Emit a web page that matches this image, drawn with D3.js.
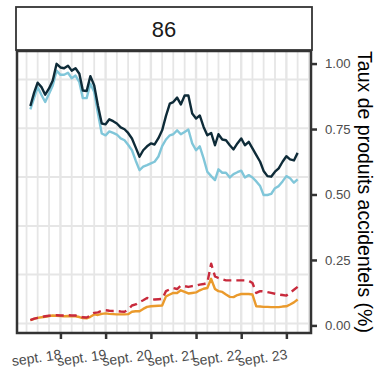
<!DOCTYPE html>
<html>
<head>
<meta charset="utf-8">
<script src="https://cdn.jsdelivr.net/npm/d3@7"></script>
<style>
body { margin: 0; background: #fff; }
text { font-family: "Liberation Sans", Arial, sans-serif; }
</style>
</head>
<body>
<script>
// valeurs mensuelles, janv. 2018 -> déc. 2023
var mois = d3.timeMonth.range(new Date(2018, 0, 1), new Date(2024, 0, 1));

var tauxFonce = [0.838, 0.89, 0.927, 0.91, 0.881, 0.905, 0.935, 0.999, 0.985, 0.982, 0.992, 0.973,
    0.982, 0.961, 0.897, 0.895, 0.952, 0.916, 0.84, 0.771, 0.768, 0.787, 0.78, 0.771,
    0.756, 0.749, 0.735, 0.714, 0.68, 0.644, 0.669, 0.684, 0.695, 0.691, 0.715, 0.745,
    0.80, 0.847, 0.853, 0.870, 0.844, 0.878, 0.878, 0.809, 0.79, 0.802, 0.758, 0.726,
    0.735, 0.688, 0.73, 0.71, 0.707, 0.688, 0.672, 0.695, 0.714, 0.688, 0.701, 0.676,
    0.65, 0.625, 0.59, 0.570, 0.568, 0.587, 0.60, 0.625, 0.646, 0.634, 0.630, 0.659];

var tauxClair = [0.825, 0.87, 0.91, 0.88, 0.853, 0.885, 0.916, 0.973, 0.957, 0.957, 0.965, 0.944,
    0.954, 0.929, 0.868, 0.868, 0.923, 0.891, 0.81, 0.733, 0.726, 0.741, 0.735, 0.729,
    0.714, 0.707, 0.69, 0.669, 0.63, 0.593, 0.606, 0.612, 0.619, 0.625, 0.645, 0.685,
    0.71, 0.726, 0.73, 0.745, 0.73, 0.739, 0.748, 0.695, 0.669, 0.684, 0.638, 0.587,
    0.57, 0.555, 0.596, 0.583, 0.583, 0.565, 0.578, 0.585, 0.591, 0.565, 0.574, 0.565,
    0.55, 0.532, 0.498, 0.498, 0.502, 0.524, 0.532, 0.55, 0.570, 0.562, 0.545, 0.558];

var tauxRouge = [0.020, 0.026, 0.029, 0.032, 0.035, 0.037, 0.038, 0.039, 0.038, 0.038, 0.039, 0.038,
    0.038, 0.034, 0.031, 0.030, 0.038, 0.048, 0.050, 0.056, 0.058, 0.056, 0.055, 0.055,
    0.053, 0.052, 0.060, 0.076, 0.080, 0.089, 0.096, 0.105, 0.100, 0.099, 0.100, 0.101,
    0.131, 0.138, 0.143, 0.139, 0.152, 0.150, 0.147, 0.150, 0.152, 0.156, 0.158, 0.162,
    0.236, 0.187, 0.181, 0.176, 0.172, 0.172, 0.172, 0.172, 0.172, 0.172, 0.170, 0.162,
    0.124, 0.131, 0.130, 0.127, 0.124, 0.121, 0.118, 0.116, 0.114, 0.125, 0.136, 0.147];

var tauxOrange = [0.020, 0.025, 0.029, 0.031, 0.033, 0.036, 0.038, 0.037, 0.036, 0.035, 0.036, 0.035,
    0.035, 0.032, 0.028, 0.027, 0.033, 0.042, 0.040, 0.044, 0.046, 0.044, 0.043, 0.042,
    0.042, 0.042, 0.043, 0.052, 0.054, 0.054, 0.063, 0.071, 0.073, 0.074, 0.075, 0.076,
    0.111, 0.118, 0.124, 0.124, 0.134, 0.128, 0.122, 0.124, 0.126, 0.134, 0.140, 0.143,
    0.178, 0.139, 0.131, 0.128, 0.118, 0.109, 0.108, 0.116, 0.120, 0.120, 0.120, 0.118,
    0.073, 0.072, 0.071, 0.071, 0.070, 0.070, 0.070, 0.072, 0.073, 0.080, 0.088, 0.099];

var xTicks = [new Date(2018, 8, 1), new Date(2019, 8, 1), new Date(2020, 8, 1),
    new Date(2021, 8, 1), new Date(2022, 8, 1), new Date(2023, 8, 1)];
var xTickLabels = ["sept. 18", "sept. 19", "sept. 20", "sept. 21", "sept. 22", "sept. 23"];
var yTicks = [0, 0.25, 0.5, 0.75, 1];
var yGrid = [0.0076, 0.194, 0.380, 0.567, 0.753, 0.939];
var titreFacette = "86";
var titreY = "Taux de produits accidentels (%)";

var margin = {top: 51, right: 65, bottom: 35, left: 17},
    width = 376 - margin.left - margin.right,
    height = 368 - margin.top - margin.bottom;

// échelles avec 5% d'expansion comme ggplot
var xExt = d3.extent(mois);
var xPad = (xExt[1] - xExt[0]) * 0.05;
var x = d3.scaleTime()
    .domain([new Date(+xExt[0] - xPad), new Date(+xExt[1] + xPad)])
    .range([0, width]);

var toutes = tauxFonce.concat(tauxClair, tauxRouge, tauxOrange);
var yExt = d3.extent(toutes);
var yPad = (yExt[1] - yExt[0]) * 0.05;
var y = d3.scaleLinear()
    .domain([yExt[0] - yPad, yExt[1] + yPad])
    .range([height, 0]);

var svg = d3.select("body").append("svg")
    .attr("width", 376)
    .attr("height", 368);

var g = svg.append("g")
    .attr("transform", "translate(" + margin.left + "," + margin.top + ")");

// grille
var vGrid = d3.timeMonth.range(x.domain()[0], x.domain()[1]).filter(function(d) { return d.getMonth() % 3 === 2; });
g.append("g").selectAll("line").data(vGrid).enter().append("line")
    .attr("x1", function(d) { return x(d); })
    .attr("x2", function(d) { return x(d); })
    .attr("y1", 0).attr("y2", height)
    .attr("stroke", "#e6e6e6")
    .attr("stroke-width", function(d) { return d.getMonth() === 8 ? 2.4 : 1.8; });

g.append("g").selectAll("line").data(yGrid).enter().append("line")
    .attr("x1", 0).attr("x2", width)
    .attr("y1", function(d) { return y(d); })
    .attr("y2", function(d) { return y(d); })
    .attr("stroke", "#e6e6e6")
    .attr("stroke-width", 2);

// séries
var series = [
    {vals: tauxClair, color: "#80c6d9", dash: null},
    {vals: tauxFonce, color: "#0e2b38", dash: null},
    {vals: tauxOrange, color: "#ea9a2c", dash: null},
    {vals: tauxRouge, color: "#c82a3c", dash: "8,5"}
];

var line = d3.line()
    .x(function(d, i) { return x(mois[i]); })
    .y(function(d) { return y(d); });

series.forEach(function(s) {
    g.append("path")
        .datum(s.vals)
        .attr("fill", "none")
        .attr("stroke", s.color)
        .attr("stroke-width", 2.4)
        .attr("stroke-linejoin", "round")
        .attr("stroke-dasharray", s.dash)
        .attr("d", line);
});

// cadre du panneau
g.append("rect")
    .attr("width", width).attr("height", height)
    .attr("fill", "none")
    .attr("stroke", "#333")
    .attr("stroke-width", 2.5);

// axe y à droite
var yAxis = g.append("g")
    .attr("transform", "translate(" + width + ",0)")
    .call(d3.axisRight(y).tickValues(yTicks).tickFormat(d3.format(".2f")).tickSize(6).tickPadding(8));
yAxis.select(".domain").remove();
yAxis.selectAll(".tick line").attr("stroke", "#333").attr("stroke-width", 2.5);
yAxis.selectAll(".tick text").attr("fill", "#4d4d4d").style("font-size", "13.2px");

// axe x
var xAxis = g.append("g")
    .attr("transform", "translate(0," + height + ")")
    .call(d3.axisBottom(x).tickValues(xTicks).tickFormat(function(d, i) { return xTickLabels[i]; }).tickSize(6));
xAxis.select(".domain").remove();
xAxis.selectAll(".tick line").attr("stroke", "#333").attr("stroke-width", 2.5);
xAxis.selectAll(".tick text")
    .attr("fill", "#4d4d4d")
    .style("font-size", "14px")
    .attr("text-anchor", "end")
    .attr("y", 0).attr("dy", 0)
    .attr("transform", "translate(1,26) rotate(-8)");

// bandeau de facette
svg.append("rect")
    .attr("x", margin.left - 1).attr("y", 7)
    .attr("width", width + 2).attr("height", margin.top - 8)
    .attr("fill", "#fff")
    .attr("stroke", "#333")
    .attr("stroke-width", 1.8);
svg.append("text")
    .attr("x", margin.left + width / 2)
    .attr("y", 29)
    .attr("dy", "0.36em")
    .attr("text-anchor", "middle")
    .attr("fill", "#1a1a1a")
    .style("font-size", "22px")
    .text(titreFacette);

// titre axe y
svg.append("text")
    .attr("transform", "translate(358," + (margin.top + height / 2) + ") rotate(90)")
    .attr("text-anchor", "middle")
    .attr("fill", "#000")
    .style("font-size", "19.5px")
    .text(titreY);
</script>
</body>
</html>
